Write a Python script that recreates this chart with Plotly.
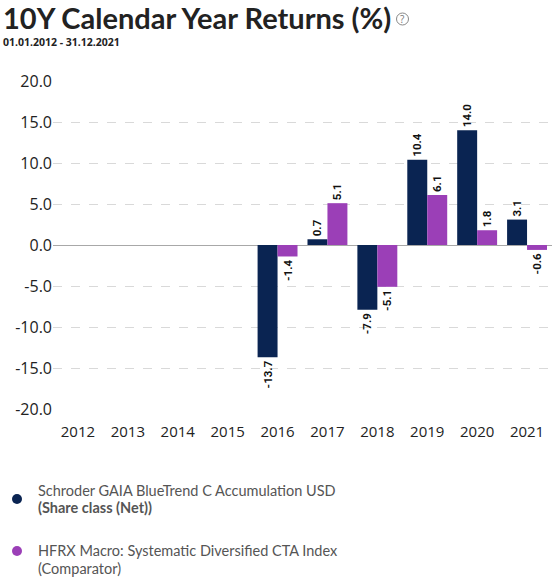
import plotly.graph_objects as go

years = ["2012", "2013", "2014", "2015", "2016", "2017", "2018", "2019", "2020", "2021"]
fund = [None, None, None, None, -13.7, 0.7, -7.9, 10.4, 14.0, 3.1]
comparator = [None, None, None, None, -1.4, 5.1, -5.1, 6.1, 1.8, -0.6]
fund_name = "Schroder GAIA BlueTrend C Accumulation USD"
fund_sub = "(Share class (Net))"
comp_name = "HFRX Macro: Systematic Diversified CTA Index"
comp_sub = "(Comparator)"
title = "10Y Calendar Year Returns (%)"
subtitle = "01.01.2012 - 31.12.2021"
ytick_vals = [-20, -15, -10, -5, 0, 5, 10, 15, 20]

NAVY = "#0a2452"
PURPLE = "#9b3fb7"

W, H = 557, 579
L, R, T, B = 53, 5, 81, 170
PW, PH = W - L - R, H - T - B


def px(x):
    return (x - L) / PW


def py(y):
    return 1 - (y - T) / PH


def fmt(v):
    return None if v is None else f"{v:.1f}"


fig = go.Figure()
for name, vals, col in [(fund_name, fund, NAVY), (comp_name, comparator, PURPLE)]:
    fig.add_trace(go.Bar(
        x=years, y=vals, name=name, marker_color=col, marker_line_width=0,
        text=[fmt(v) for v in vals], textposition="outside", textangle=-90,
        constraintext="none",
        textfont=dict(family="Roboto", size=11.5, color="#111", weight="bold"),
        cliponaxis=False, showlegend=False,
    ))

fig.update_layout(
    width=W, height=H, margin=dict(l=L, r=R, t=T, b=B),
    paper_bgcolor="white", plot_bgcolor="white",
    barmode="group", bargap=0.2, bargroupgap=0,
    font=dict(family="Open Sans", color="#222"),
    xaxis=dict(showgrid=False, ticks="", tickfont=dict(size=15, color="#222"),
               showline=True, linecolor="rgba(0,0,0,0)", fixedrange=True,
               ticklabelstandoff=9),
    yaxis=dict(range=[-20, 20], tickvals=ytick_vals,
               ticktext=[f"{v:.1f}" for v in ytick_vals],
               tickfont=dict(size=16, color="#222"),
               showgrid=True, gridcolor="#d9d9d9", griddash="dash", gridwidth=1,
               zeroline=True, zerolinecolor="#a8a8a8", zerolinewidth=1,
               ticks="", fixedrange=True),
)


def text_ann(text, x, y, size, family="Lato", color="#555", anchor="middle"):
    return dict(text=text, x=px(x), y=py(y), xref="paper", yref="paper",
                xanchor="left", yanchor=anchor, showarrow=False, borderpad=0,
                align="left", font=dict(family=family, size=size, color=color))


ann = [
    text_ann(f"<b>{title}</b>", 2, 18, 29, color="#222"),
    text_ann(f"<b>{subtitle}</b>", 2, 42, 10.5, family="Open Sans", color="#222"),
    dict(text="?", x=px(402.5), y=py(19), xref="paper", yref="paper",
         xanchor="center", yanchor="middle", showarrow=False,
         font=dict(family="Open Sans", size=10, color="#777")),
    text_ann(fund_name, 37, 490, 14.5),
    text_ann(f"<b>{fund_sub}</b>", 37, 507, 14.5),
    text_ann(comp_name, 37, 550, 14.5),
    text_ann(comp_sub, 37, 568, 14.5),
]
fig.update_layout(annotations=ann)

shapes = [
    dict(type="circle", xref="paper", yref="paper", x0=px(396.5), x1=px(408.5),
         y0=py(25), y1=py(13), line=dict(color="#888", width=1)),
    dict(type="circle", xref="paper", yref="paper", x0=px(12), x1=px(22),
         y0=py(504), y1=py(494), fillcolor=NAVY, line=dict(width=0)),
    dict(type="circle", xref="paper", yref="paper", x0=px(12), x1=px(22),
         y0=py(556), y1=py(546), fillcolor=PURPLE, line=dict(width=0)),
]
fig.update_layout(shapes=shapes)

fig.write_html("out.html", config={"displayModeBar": False},
               post_script="document.body.style.margin='0px';")
